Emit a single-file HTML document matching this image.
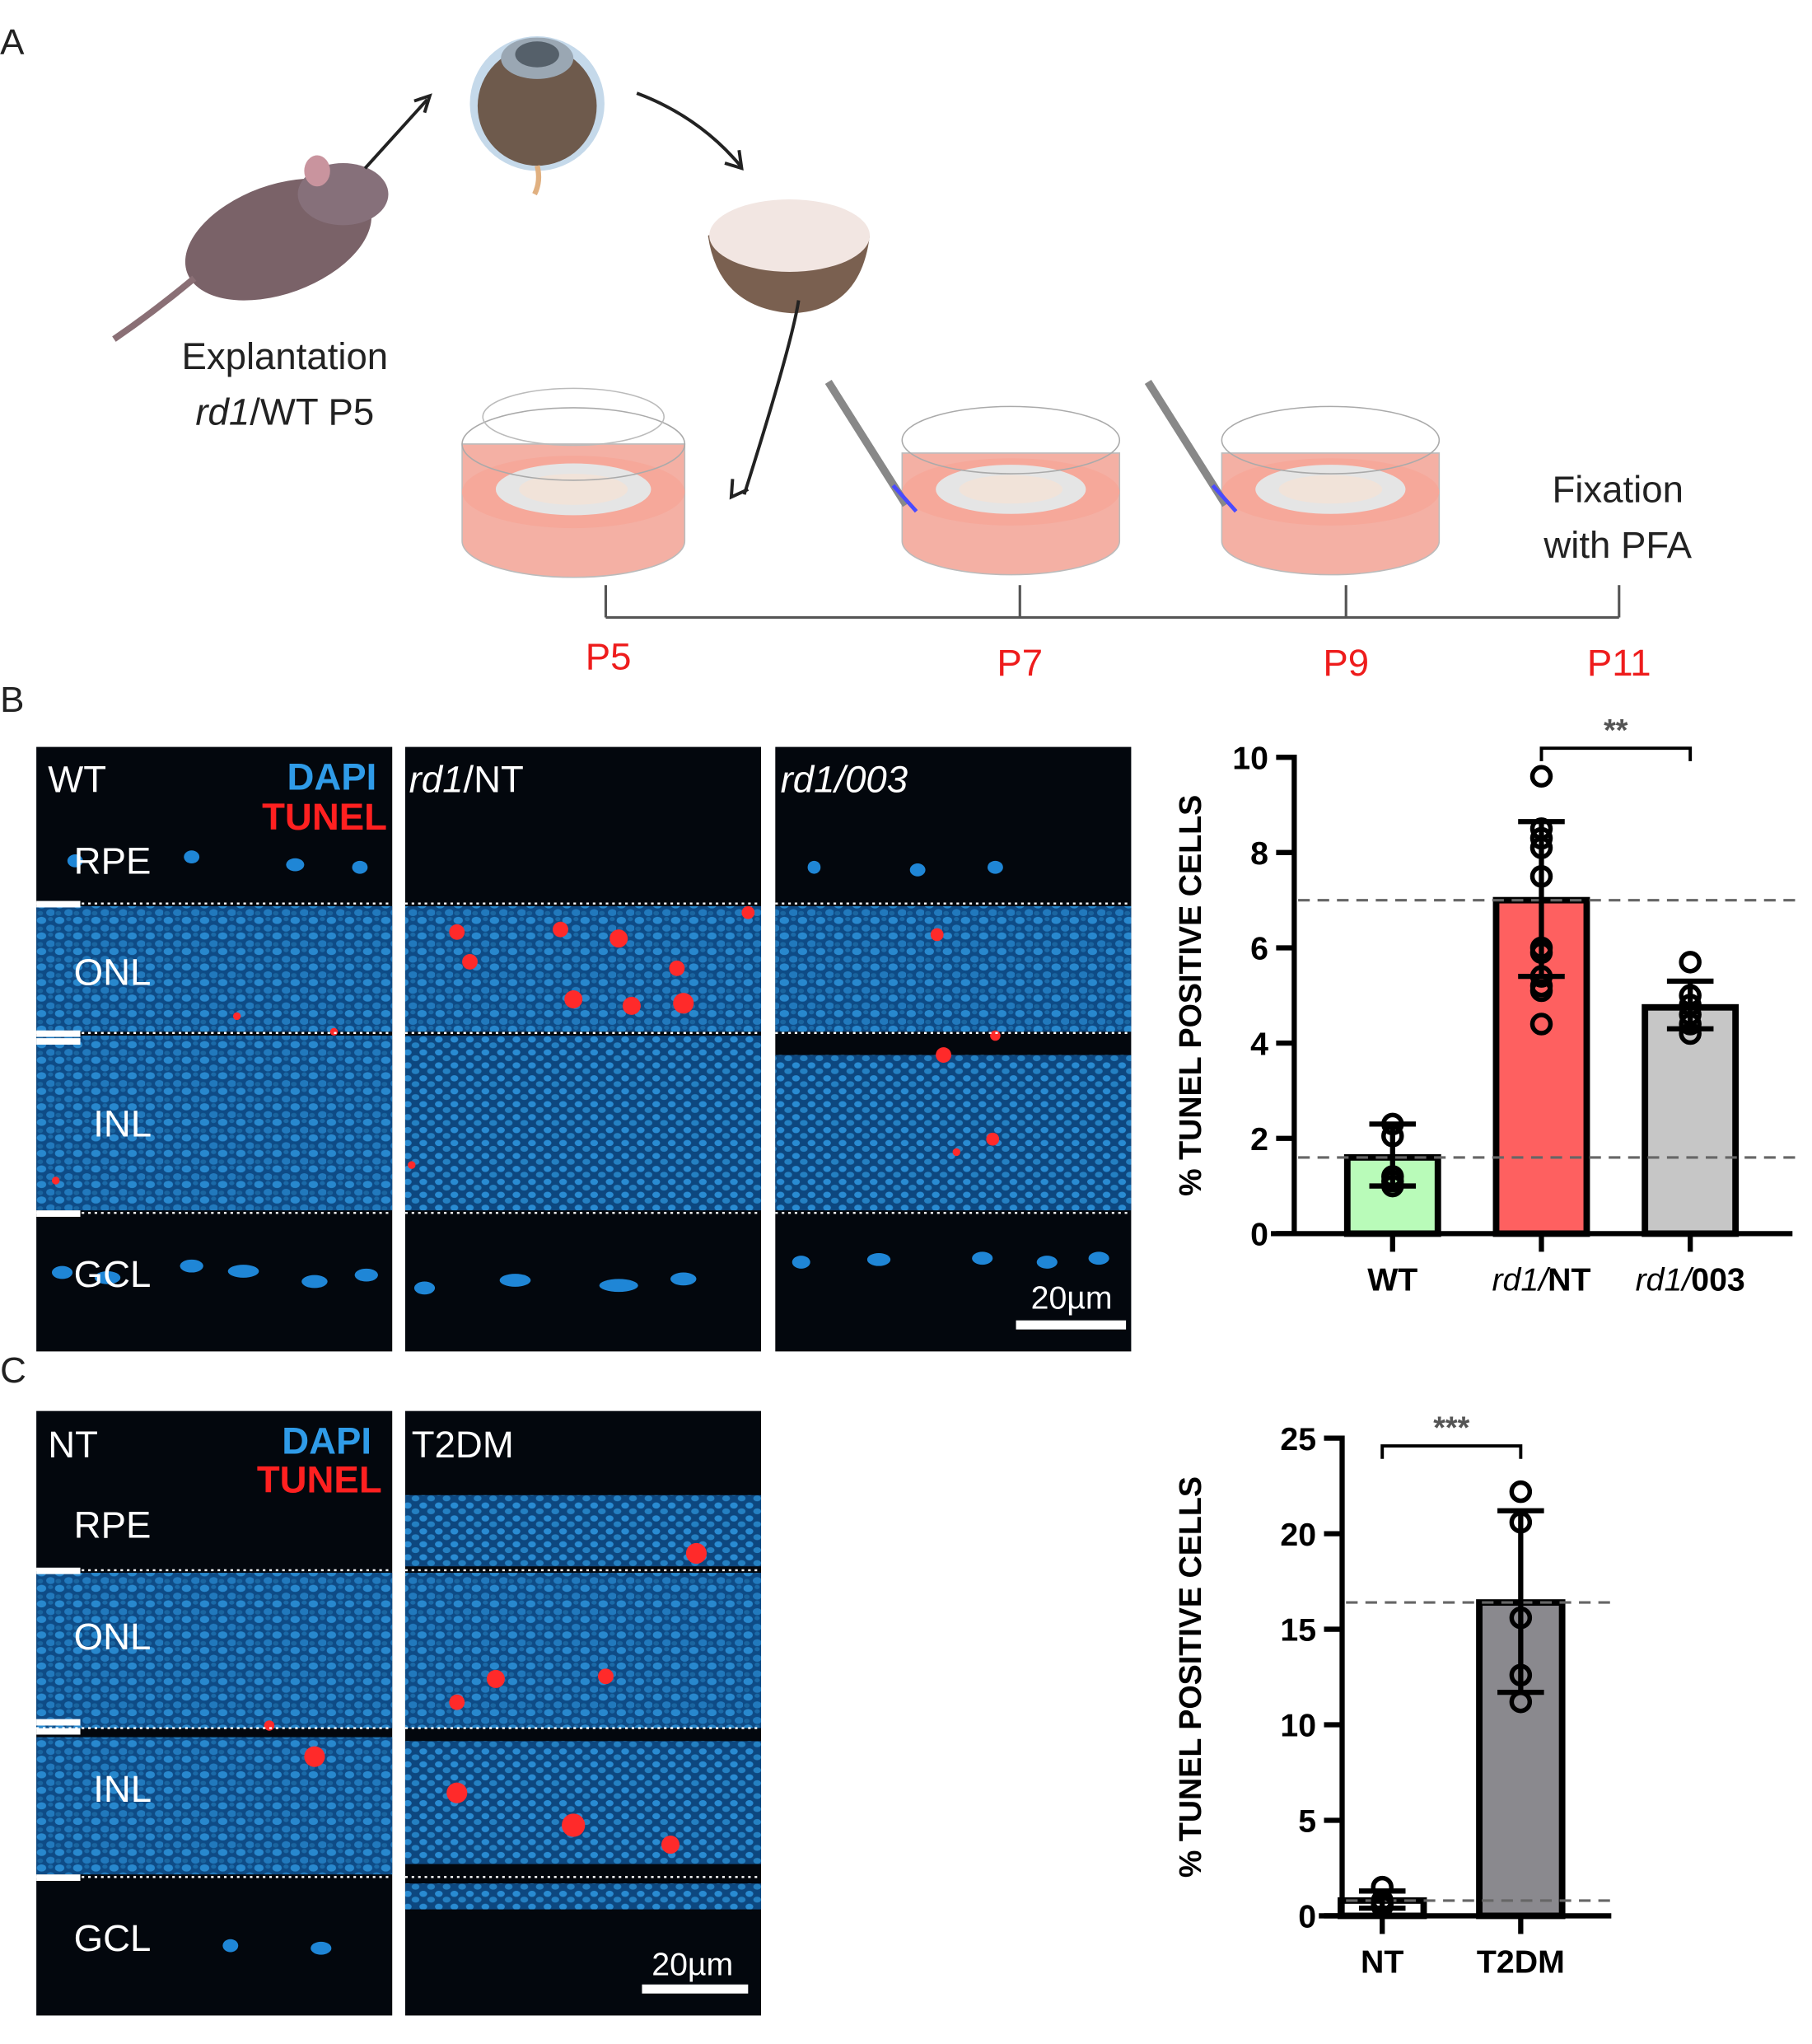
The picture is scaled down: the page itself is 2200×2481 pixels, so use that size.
<!DOCTYPE html>
<html><head><meta charset="utf-8"><style>
html,body{margin:0;padding:0;background:#fff;}
svg{display:block;font-family:"Liberation Sans",sans-serif;}
</style></head><body>
<svg id="fig" width="2200" height="2481" viewBox="0 0 1400 1579" xmlns="http://www.w3.org/2000/svg">
<defs>
<pattern id="nuc" width="14" height="12" patternUnits="userSpaceOnUse">
<rect width="14" height="12" fill="#0f4f8c"/>
<ellipse cx="4" cy="3" rx="3.6" ry="2.8" fill="#2a8fd8"/>
<ellipse cx="11" cy="9" rx="3.4" ry="2.7" fill="#237fc6"/>
<ellipse cx="11" cy="2" rx="2" ry="1.6" fill="#1c6fb0"/>
<ellipse cx="3" cy="9.5" rx="2.2" ry="1.8" fill="#1b6aa8"/>
</pattern>
<pattern id="nuc2" width="12" height="10" patternUnits="userSpaceOnUse">
<rect width="12" height="10" fill="#0e4a85"/>
<ellipse cx="3" cy="3" rx="3" ry="2.4" fill="#2b92dc"/>
<ellipse cx="9" cy="7.5" rx="3" ry="2.3" fill="#2686cc"/>
</pattern>
</defs>

<!-- Panel A -->
<g>
<text x="0" y="42" font-size="28" fill="#222" font-family="Liberation Sans">A</text>
<!-- mouse -->
<g>
<ellipse cx="215" cy="185" rx="75" ry="42" fill="#7a6268" transform="rotate(-20 215 185)"/>
<ellipse cx="265" cy="150" rx="35" ry="24" fill="#86707a"/>
<ellipse cx="245" cy="132" rx="10" ry="12" fill="#c9949e"/>
<path d="M150 215 Q120 240 88 262" stroke="#8a6f75" stroke-width="5" fill="none"/>
<path d="M282 130 L330 77" stroke="#222" stroke-width="2.5" fill="none"/>
<path d="M320 78 L332 74 L328 87" stroke="#222" stroke-width="2.5" fill="none"/>
</g>
<!-- eye -->
<g>
<circle cx="415" cy="80" r="52" fill="#c5d9ea"/>
<circle cx="415" cy="82" r="46" fill="#6e5a4c"/>
<ellipse cx="415" cy="45" rx="28" ry="16" fill="#9aa7b3"/>
<ellipse cx="415" cy="42" rx="17" ry="10" fill="#55606a"/>
<path d="M415 128 Q418 140 413 150" stroke="#e0b080" stroke-width="4" fill="none"/>
<path d="M492 72 Q540 90 572 128" stroke="#222" stroke-width="2.5" fill="none"/>
<path d="M560 126 L573 130 L571 116" stroke="#222" stroke-width="2.5" fill="none"/>
</g>
<!-- eyecup -->
<g>
<path d="M547 182 Q610 155 672 182 Q665 240 612 242 Q555 238 547 182Z" fill="#7a6050"/>
<ellipse cx="610" cy="182" rx="62" ry="28" fill="#f2e6e2"/>
<path d="M617 232 Q612 265 575 382" stroke="#222" stroke-width="2.5" fill="none"/>
<path d="M566 370 L565 384 L578 378" stroke="#222" stroke-width="2.5" fill="none"/>
</g>
<!-- dishes -->
<g>
<path d="M357 343 L357 418 A86 28 0 0 0 529 418 L529 343Z" fill="#f4b0a4" stroke="#bbb"/>
<ellipse cx="443" cy="380" rx="86" ry="28" fill="#f6a89a"/>
<ellipse cx="443" cy="378" rx="60" ry="20" fill="#e5e5e5"/>
<ellipse cx="443" cy="378" rx="42" ry="12" fill="#f1e3d9"/>
<ellipse cx="443" cy="343" rx="86" ry="28" fill="none" stroke="#aaa"/>
<ellipse cx="443" cy="322" rx="70" ry="22" fill="none" stroke="#bbb"/>
</g>
<g>
<path d="M697 350 L697 418 A84 26 0 0 0 865 418 L865 350Z" fill="#f4b0a4" stroke="#bbb"/>
<ellipse cx="781" cy="380" rx="84" ry="26" fill="#f6a89a"/>
<ellipse cx="781" cy="378" rx="58" ry="19" fill="#e5e5e5"/>
<ellipse cx="781" cy="378" rx="40" ry="11" fill="#f1e3d9"/>
<ellipse cx="781" cy="340" rx="84" ry="26" fill="none" stroke="#aaa"/>
<path d="M640 295 L700 390" stroke="#888" stroke-width="6"/>
<path d="M690 375 L708 395" stroke="#4a4aff" stroke-width="3"/>
</g>
<g>
<path d="M944 350 L944 418 A84 26 0 0 0 1112 418 L1112 350Z" fill="#f4b0a4" stroke="#bbb"/>
<ellipse cx="1028" cy="380" rx="84" ry="26" fill="#f6a89a"/>
<ellipse cx="1028" cy="378" rx="58" ry="19" fill="#e5e5e5"/>
<ellipse cx="1028" cy="378" rx="40" ry="11" fill="#f1e3d9"/>
<ellipse cx="1028" cy="340" rx="84" ry="26" fill="none" stroke="#aaa"/>
<path d="M887 295 L947 390" stroke="#888" stroke-width="6"/>
<path d="M937 375 L955 395" stroke="#4a4aff" stroke-width="3"/>
</g>
<text x="220" y="285" font-size="29" text-anchor="middle" fill="#222">Explantation</text>
<text x="220" y="328" font-size="29" text-anchor="middle" fill="#222"><tspan font-style="italic">rd1</tspan>/WT P5</text>
<text x="1250" y="388" font-size="29" text-anchor="middle" fill="#222">Fixation</text>
<text x="1250" y="431" font-size="29" text-anchor="middle" fill="#222">with PFA</text>
<g stroke="#555" stroke-width="2">
<line x1="468" y1="477" x2="1251" y2="477"/>
<line x1="468" y1="452" x2="468" y2="477"/><line x1="788" y1="452" x2="788" y2="477"/>
<line x1="1040" y1="452" x2="1040" y2="477"/><line x1="1251" y1="452" x2="1251" y2="477"/>
</g>
<g font-size="29" fill="#ee1c1c" text-anchor="middle">
<text x="470" y="517">P5</text>
<text x="788" y="522">P7</text>
<text x="1040" y="522">P9</text>
<text x="1251" y="522">P11</text>
</g>
</g>

<text x="0" y="550" font-size="28" fill="#222">B</text>
<text x="0" y="1068" font-size="28" fill="#222">C</text>

<g id="micro"></g>
<g id="chartB"></g>
<g id="chartC"></g>
</svg>
<script>
// ===== Chart B data =====
const catsB = ["WT", "rd1/NT", "rd1/003"];
const meansB = [1.6, 7.0, 4.75];
const errLoB = [1.0, 5.4, 4.3];
const errHiB = [2.3, 8.65, 5.3];
const ptsB = [[2.3, 2.05, 1.2, 1.1, 1.0], [9.6, 8.5, 8.3, 8.1, 7.5, 6.0, 5.9, 5.4, 5.2, 5.1, 4.4], [5.7, 5.0, 4.8, 4.6, 4.4, 4.2]];
const ticksB = [0, 2, 4, 6, 8, 10];
const refB = [7.0, 1.6];
// ===== Chart C data =====
const catsC = ["NT", "T2DM"];
const meansC = [0.8, 16.4];
const errLoC = [0.4, 11.7];
const errHiC = [1.3, 21.2];
const ptsC = [[1.5, 0.8, 0.6, 0.5], [22.2, 20.6, 15.6, 12.6, 11.2]];
const ticksC = [0, 5, 10, 15, 20, 25];
const refC = [16.4, 0.8];

const NS = "http://www.w3.org/2000/svg";
function mk(tag, attrs, parent) { const e = document.createElementNS(NS, tag); for (const k in attrs) e.setAttribute(k, attrs[k]); parent.appendChild(e); return e; }

function drawChart(g, cfg) {
  const y = v => cfg.y0 - (v - cfg.min) / (cfg.max - cfg.min) * (cfg.y0 - cfg.yTop);
  const x = i => cfg.xs[i];
  // bars
  cfg.means.forEach((m, i) => {
    const r = mk("rect", { x: x(i) - cfg.bw / 2, y: y(m), width: cfg.bw, height: y(0) - y(m), fill: cfg.colors[i], stroke: "#000", "stroke-width": 5 }, g);
    
    
  });
  // dashed reference lines
  cfg.refs.forEach(v => {
    const l = mk("line", { x1: cfg.xAxis + 3, x2: cfg.xEnd + 5, y1: y(v), y2: y(v), stroke: "#666", "stroke-width": 2, "stroke-dasharray": "9 6" }, g);
    
    
  });
  // error bars & points
  cfg.means.forEach((m, i) => {
    const eb = mk("g", {}, g);
    
    
    mk("line", { x1: x(i), x2: x(i), y1: y(cfg.lo[i]), y2: y(cfg.hi[i]), stroke: "#000", "stroke-width": 4 }, eb);
    mk("line", { x1: x(i) - 18, x2: x(i) + 18, y1: y(cfg.lo[i]), y2: y(cfg.lo[i]), stroke: "#000", "stroke-width": 4 }, eb);
    mk("line", { x1: x(i) - 18, x2: x(i) + 18, y1: y(cfg.hi[i]), y2: y(cfg.hi[i]), stroke: "#000", "stroke-width": 4 }, eb);
    cfg.pts[i].forEach(p => {
      const c = mk("circle", { cx: x(i), cy: y(p), r: 7, fill: "none", stroke: "#000", "stroke-width": 3.5 }, g);
      
      
    });
  });
  // axes
  const ya = mk("line", { x1: cfg.xAxis, x2: cfg.xAxis, y1: y(cfg.max) - 2, y2: y(0) + 2, stroke: "#000", "stroke-width": 4 }, g);
  
  
  const xa = mk("line", { x1: cfg.xAxis - 18, x2: cfg.xEnd, y1: y(0), y2: y(0), stroke: "#000", "stroke-width": 4 }, g);
  
  
  cfg.ticks.forEach(t => {
    mk("line", { x1: cfg.xAxis - 14, x2: cfg.xAxis, y1: y(t), y2: y(t), stroke: "#000", "stroke-width": 4 }, g);
    const tx = mk("text", { x: cfg.xAxis - 20, y: y(t) + 9, "font-size": 25, "font-weight": "bold", "text-anchor": "end" }, g);
    tx.textContent = t;
    
    
  });
  cfg.cats.forEach((c, i) => {
    mk("line", { x1: x(i), x2: x(i), y1: y(0), y2: y(0) + 14, stroke: "#000", "stroke-width": 4 }, g);
    const tx = mk("text", { x: x(i), y: y(0) + 44, "font-size": 25, "font-weight": "bold", "text-anchor": "middle" }, g);
    if (c.indexOf("rd1/") === 0) {
      const a = mk("tspan", { "font-style": "italic", "font-weight": "normal" }, tx); a.textContent = "rd1/";
      const b = mk("tspan", {}, tx); b.textContent = c.slice(4);
    } else tx.textContent = c;
    
    
  });
  const tt = mk("text", { x: 0, y: 0, "font-size": 24, "font-weight": "bold", "text-anchor": "middle", transform: `translate(${cfg.titleX},${(y(0) + y(cfg.max)) / 2}) rotate(-90)` }, g);
  tt.textContent = "% TUNEL POSITIVE CELLS";
  
  
  // significance
  const s = cfg.sig;
  const br = mk("path", { d: `M${x(s.a)} ${s.y + 10} L${x(s.a)} ${s.y} L${x(s.b)} ${s.y} L${x(s.b)} ${s.y + 10}`, fill: "none", stroke: "#000", "stroke-width": 2.5 }, g);
  
  
  const st = mk("text", { x: (x(s.a) + x(s.b)) / 2, y: s.y - 6, "font-size": 24, fill: "#555", "text-anchor": "middle", "font-weight": "bold" }, g);
  st.textContent = s.label;
  
  
}

drawChart(document.getElementById("chartB"), {
  cats: catsB, means: meansB, lo: errLoB, hi: errHiB, pts: ptsB, ticks: ticksB, refs: refB,
  min: 0, max: 10, y0: 953, yTop: 585, xAxis: 1000, xEnd: 1385, xs: [1076, 1191, 1306], bw: 70,
  colors: ["#b9fbb9", "#fe6060", "#c6c6c6"], titleX: 928, sig: { a: 1, b: 2, y: 578, label: "**" }
});
drawChart(document.getElementById("chartC"), {
  cats: catsC, means: meansC, lo: errLoC, hi: errHiC, pts: ptsC, ticks: ticksC, refs: refC,
  min: 0, max: 25, y0: 1480, yTop: 1111, xAxis: 1037, xEnd: 1245, xs: [1068, 1175], bw: 64,
  colors: ["#ffffff", "#8a898e"], titleX: 928, sig: { a: 0, b: 1, y: 1117, label: "***" }
});

// ===== micrographs (illustrative) =====
const micro = document.getElementById("micro");
function panel(x, yTop, h, name, layers, lines, reds, gcl) {
  const g = mk("g", {}, micro);
  
  
  mk("rect", { x: x, y: yTop, width: 275, height: h, fill: "#03070d" }, g);
  layers.forEach(L => mk("rect", { x: x, y: L[0], width: 275, height: L[1] - L[0], fill: "url(#" + (L[2] || "nuc") + ")", opacity: 0.95 }, g));
  gcl.forEach(p => mk("ellipse", { cx: x + p[0], cy: p[1], rx: p[2], ry: 5, fill: "#1f86d6" }, g));
  reds.forEach(p => mk("circle", { cx: x + p[0], cy: p[1], r: p[2], fill: "#ff2a2a" }, g));
  lines.forEach(ly => mk("line", { x1: x, x2: x + 275, y1: ly, y2: ly, stroke: "#fff", "stroke-width": 1.5, "stroke-dasharray": "2 3" }, g));
  return g;
}
const gclB = [[20,983,8],[55,987,10],[120,978,9],[160,982,12],[215,990,10],[255,985,9]];
panel(28, 577, 467, "micrograph-wt", [[700,797],[800,935]], [698,798,937], [[155,785,3],[230,797,3],[15,912,3]], gclB.concat([[30,665,6],[120,662,6],[200,668,7],[250,670,6]]));
panel(313, 577, 467, "micrograph-rd1-nt", [[700,797],[800,935,"nuc2"]], [698,798,937], [[40,720,6],[50,743,6],[120,718,6],[165,725,7],[130,772,7],[175,777,7],[215,775,8],[210,748,6],[265,705,5],[5,900,3]], [[15,995,8],[85,989,12],[165,993,15],[215,988,10]]);
panel(599, 577, 467, "micrograph-rd1-003", [[700,797],[815,935,"nuc2"]], [698,798,937], [[125,722,5],[130,815,6],[170,800,4],[168,880,5],[140,890,3]], [[20,975,7],[80,973,9],[160,972,8],[210,975,8],[250,972,8],[30,670,5],[110,672,6],[170,670,6]]);
panel(28, 1090, 467, "micrograph-nt", [[1215,1335],[1342,1448]], [1213,1335,1450], [[215,1357,8],[180,1333,4]], [[150,1503,6],[220,1505,8]]);
panel(313, 1090, 467, "micrograph-t2dm", [[1155,1210,"nuc2"],[1215,1335],[1345,1440,"nuc2"],[1455,1475,"nuc2"]], [1213,1335,1450], [[225,1200,8],[70,1297,7],[40,1315,6],[155,1295,6],[40,1385,8],[130,1410,9],[205,1425,7]], []);

// labels on micrographs
function t(x, y, s, opts, name) {
  const e = mk("text", Object.assign({ x: x, y: y, "font-size": 29, fill: "#fff" }, opts || {}), micro);
  e.innerHTML = s;
  
  
}
t(37, 612, "WT", {}, "label-wt");
t(291, 610, "DAPI", { fill: "#2f9be8", "font-weight": "bold", "text-anchor": "end" }, "legend-dapi");
t(299, 641, "TUNEL", { fill: "#ff2020", "font-weight": "bold", "text-anchor": "end" }, "legend-tunel");
t(316, 612, '<tspan font-style="italic">rd1</tspan>/NT', {}, "label-rd1-nt");
t(603, 612, '<tspan font-style="italic">rd1/003</tspan>', {}, "label-rd1-003");
t(57, 675, "RPE", {}, "layer-rpe");
t(57, 761, "ONL", {}, "layer-onl");
t(72, 878, "INL", {}, "layer-inl");
t(57, 994, "GCL", {}, "layer-gcl");
t(828, 1011, "20µm", { "font-size": 25, "text-anchor": "middle" }, "scale-bar-label-b");
mk("rect", { x: 785, y: 1020, width: 85, height: 7, fill: "#fff" }, micro);
t(37, 1126, "NT", {}, "label-nt");
t(287, 1123, "DAPI", { fill: "#2f9be8", "font-weight": "bold", "text-anchor": "end" }, "legend-dapi-c");
t(295, 1153, "TUNEL", { fill: "#ff2020", "font-weight": "bold", "text-anchor": "end" }, "legend-tunel-c");
t(318, 1126, "T2DM", {}, "label-t2dm");
t(57, 1188, "RPE", {}, "layer-rpe-c");
t(57, 1274, "ONL", {}, "layer-onl-c");
t(72, 1392, "INL", {}, "layer-inl-c");
t(57, 1507, "GCL", {}, "layer-gcl-c");
t(535, 1526, "20µm", { "font-size": 25, "text-anchor": "middle" }, "scale-bar-label-c");
mk("rect", { x: 496, y: 1533, width: 82, height: 7, fill: "#fff" }, micro);
[698, 798, 804, 937, 1213, 1330, 1337, 1450].forEach(yy => mk("rect", { x: 28, y: yy - 2, width: 34, height: 5, fill: "#fff" }, micro));
</script>
</body></html>
